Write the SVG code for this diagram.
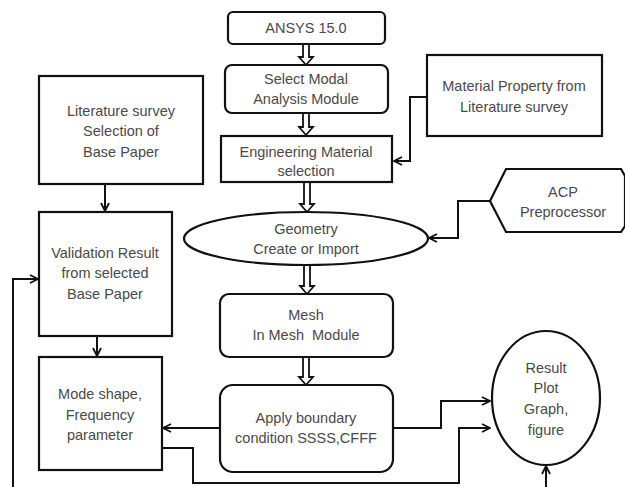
<svg xmlns="http://www.w3.org/2000/svg" width="625" height="487" viewBox="0 0 625 487">
<defs>
<marker id="arr" viewBox="0 0 10 10" refX="9" refY="5" markerWidth="10" markerHeight="10" markerUnits="userSpaceOnUse" orient="auto">
<path d="M1,1 L9,5 L1,9" fill="none" stroke="#111" stroke-width="1.8"/>
</marker>
<style>
.box{fill:#fff;stroke:#111;stroke-width:2.2}
.t{font-family:"Liberation Sans",Arial,sans-serif;font-size:14.5px;fill:#4a4a4a;text-anchor:middle}
.c{fill:none;stroke:#111;stroke-width:2;marker-end:url(#arr)}
.blk{fill:#fff;stroke:#111;stroke-width:1.8}
</style>
</defs>
<rect width="625" height="487" fill="#fff"/>

<g id="connectors">
<path class="c" d="M427,97 H410 V161 H394"/>
<path class="c" d="M490,201 H458 V238 H429"/>
<path class="c" d="M105,184 V211"/>
<path class="c" d="M97,336 V356"/>
<path class="c" d="M220,428 H163"/>
<path class="c" d="M393,428 H441 V401 H490"/>
<path class="c" d="M162,448 H193 V483 H459 V428 H490"/>
<path class="c" d="M13,487 V279 H38"/>
<path class="c" d="M546,487 V466"/>
<polygon class="blk" points="303,44 309,44 309,57 313,57 306,65 299,57 303,57"/>
<polygon class="blk" points="303,113 309,113 309,127 313,127 306,135 299,127 303,127"/>
<polygon class="blk" points="304,182 310,182 310,204 314,204 307,212 300,204 304,204"/>
<polygon class="blk" points="304,265 310,265 310,286 314,286 307,294 300,286 304,286"/>
<polygon class="blk" points="303,357 309,357 309,377 313,377 306,385 299,377 303,377"/>
</g>

<g id="ansys">
<rect class="box" x="228" y="12" width="157" height="32" rx="5"/>
<text class="t" x="306" y="33">ANSYS 15.0</text>
</g>
<g id="modal">
<rect class="box" x="225" y="65" width="163" height="48" rx="7"/>
<text class="t" x="306" y="84">Select Modal</text>
<text class="t" x="306" y="104">Analysis Module</text>
</g>
<g id="engmat">
<rect class="box" x="221" y="136" width="171" height="46"/>
<text class="t" x="306" y="157">Engineering Material</text>
<text class="t" x="306" y="176">selection</text>
</g>
<g id="matprop">
<rect class="box" x="427" y="55" width="175" height="81"/>
<text class="t" x="514" y="91">Material Property from</text>
<text class="t" x="514" y="112">Literature survey</text>
</g>
<g id="acp">
<polygon class="box" points="490,201 506,169 621,169 625,176 625,226 621,232 506,232"/>
<text class="t" x="563" y="197">ACP</text>
<text class="t" x="563" y="217">Preprocessor</text>
</g>
<g id="geometry">
<ellipse class="box" cx="306" cy="238.5" rx="122" ry="26.5"/>
<text class="t" x="306" y="234">Geometry</text>
<text class="t" x="306" y="254">Create or Import</text>
</g>
<g id="mesh">
<rect class="box" x="220" y="294" width="173" height="63" rx="9"/>
<text class="t" x="306" y="320">Mesh</text>
<text class="t" x="306" y="340" xml:space="preserve">In Mesh  Module</text>
</g>
<g id="apply">
<rect class="box" x="220" y="385" width="173" height="87" rx="13"/>
<text class="t" x="306" y="423">Apply boundary</text>
<text class="t" x="306" y="443">condition SSSS,CFFF</text>
</g>
<g id="literature">
<rect class="box" x="39" y="76" width="164" height="108"/>
<text class="t" x="121" y="116">Literature survey</text>
<text class="t" x="121" y="136">Selection of</text>
<text class="t" x="121" y="157">Base Paper</text>
</g>
<g id="validation">
<rect class="box" x="39" y="212" width="133" height="124"/>
<text class="t" x="105" y="258">Validation Result</text>
<text class="t" x="105" y="278">from selected</text>
<text class="t" x="105" y="299">Base Paper</text>
</g>
<g id="modeshape">
<rect class="box" x="39" y="357" width="123" height="113"/>
<text class="t" x="100" y="399">Mode shape,</text>
<text class="t" x="100" y="420">Frequency</text>
<text class="t" x="100" y="440">parameter</text>
</g>
<g id="result">
<ellipse class="box" cx="546" cy="398" rx="54" ry="67"/>
<text class="t" x="546" y="373">Result</text>
<text class="t" x="546" y="393">Plot</text>
<text class="t" x="546" y="414">Graph,</text>
<text class="t" x="546" y="435">figure</text>
</g>
</svg>
